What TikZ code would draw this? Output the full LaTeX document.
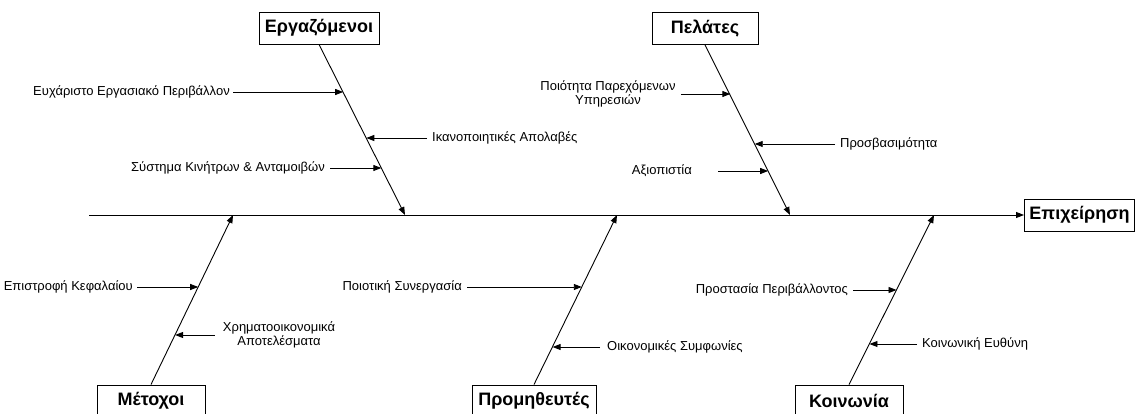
\documentclass[tikz,border=0pt]{standalone}
\usepackage{fontspec}
\setmainfont{Liberation Sans}
\usetikzlibrary{calc,arrows.meta}
\begin{document}
\begin{tikzpicture}[x=1pt,y=-1pt,
  arr/.style={line width=0.9pt,-{Triangle[length=8pt,width=6pt]}},
  catbox/.style={draw,line width=0.9pt,fill=white,inner xsep=4pt,inner ysep=0pt,
    minimum height=32pt,font=\fontsize{18}{21}\selectfont\bfseries},
  lab/.style={inner sep=0pt,font=\fontsize{13}{13.5}\selectfont,align=center}]
\useasboundingbox (0,0) rectangle (1136,414);
\clip (0,0) rectangle (1136,414);

% head of the fish
\node[catbox,anchor=west,inner xsep=5pt] (epi) at (1024,215) {Επιχείρηση};
\coordinate (tail) at (89,215);
\draw[arr] (tail) -- (epi.west);

% category boxes
\node[catbox,minimum width=120pt] (erg) at (319,28) {Εργαζόμενοι};
\node[catbox,minimum width=106pt] (pel) at (705,28.5) {Πελάτες};
\node[catbox,minimum width=108pt] (met) at (151,401) {Μέτοχοι};
\node[catbox,minimum width=124pt] (pro) at (534,401) {Προμηθευτές};
\node[catbox,minimum width=108pt] (koi) at (849,401) {Κοινωνία};

% points where the bones meet the spine
\coordinate (jE) at (405,215);
\coordinate (jP) at (790,215);
\coordinate (jM) at (233,215);
\coordinate (jS) at (617,215);
\coordinate (jK) at (934,215);

% the bones
\draw[arr] (erg.south) -- (jE);
\draw[arr] (pel.south) -- (jP);
\draw[arr] (met.north) -- (jM);
\draw[arr] (pro.north) -- (jS);
\draw[arr] (koi.north) -- (jK);

% points on the bones that the causes point to
\coordinate (t1) at ($(erg.south)!0.281!(jE)$);
\coordinate (t2) at ($(erg.south)!0.550!(jE)$);
\coordinate (t3) at ($(erg.south)!0.725!(jE)$);
\coordinate (t4) at ($(pel.south)!0.298!(jP)$);
\coordinate (t5) at ($(pel.south)!0.585!(jP)$);
\coordinate (t6) at ($(pel.south)!0.743!(jP)$);
\coordinate (t7) at ($(met.north)!0.576!(jM)$);
\coordinate (t8) at ($(met.north)!0.294!(jM)$);
\coordinate (t9) at ($(pro.north)!0.576!(jS)$);
\coordinate (t10) at ($(pro.north)!0.224!(jS)$);
\coordinate (t11) at ($(koi.north)!0.559!(jK)$);
\coordinate (t12) at ($(koi.north)!0.241!(jK)$);

% causes
\node[lab,anchor=east] (l1) at (230,92) {Ευχάριστο Εργασιακό Περιβάλλον};
\node[lab,anchor=west] (l2) at (432,138) {Ικανοποιητικές Απολαβές};
\node[lab,anchor=east] (l3) at (325,168) {Σύστημα Κινήτρων \& Ανταμοιβών};
\node[lab] (l4) at (608,94) {Ποιότητα Παρεχόμενων\\Υπηρεσιών};
\node[lab,anchor=west] (l5) at (840,144) {Προσβασιμότητα};
\node[lab,anchor=east] (l6) at (692,171) {Αξιοπιστία};
\node[lab,anchor=east] (l7) at (133,287) {Επιστροφή Κεφαλαίου};
\node[lab] (l8) at (279,335) {Χρηματοοικονομικά\\Αποτελέσματα};
\node[lab,anchor=east] (l9) at (462,287) {Ποιοτική Συνεργασία};
\node[lab,anchor=west] (l10) at (607,347) {Οικονομικές Συμφωνίες};
\node[lab,anchor=east] (l11) at (848,290) {Προστασία Περιβάλλοντος};
\node[lab,anchor=west] (l12) at (922,344) {Κοινωνική Ευθύνη};

\draw[arr] ([xshift=3pt]l1.east) -- (t1 |- l1.east);
\draw[arr] ([xshift=-5pt]l2.west) -- (t2 |- l2.west);
\draw[arr] ([xshift=5pt]l3.east) -- (t3 |- l3.east);
\draw[arr] ([xshift=5pt]l4.east) -- (t4 |- l4.east);
\draw[arr] ([xshift=-5pt]l5.west) -- (t5 |- l5.west);
\draw[arr] ([xshift=26pt]l6.east) -- (t6 |- l6.east);
\draw[arr] ([xshift=4pt]l7.east) -- (t7 |- l7.east);
\draw[arr] ([xshift=-8pt]l8.west) -- (t8 |- l8.west);
\draw[arr] ([xshift=5pt]l9.east) -- (t9 |- l9.east);
\draw[arr] ([xshift=-7pt]l10.west) -- (t10 |- l10.west);
\draw[arr] ([xshift=5pt]l11.east) -- (t11 |- l11.east);
\draw[arr] ([xshift=-5pt]l12.west) -- (t12 |- l12.west);
\end{tikzpicture}
\end{document}
